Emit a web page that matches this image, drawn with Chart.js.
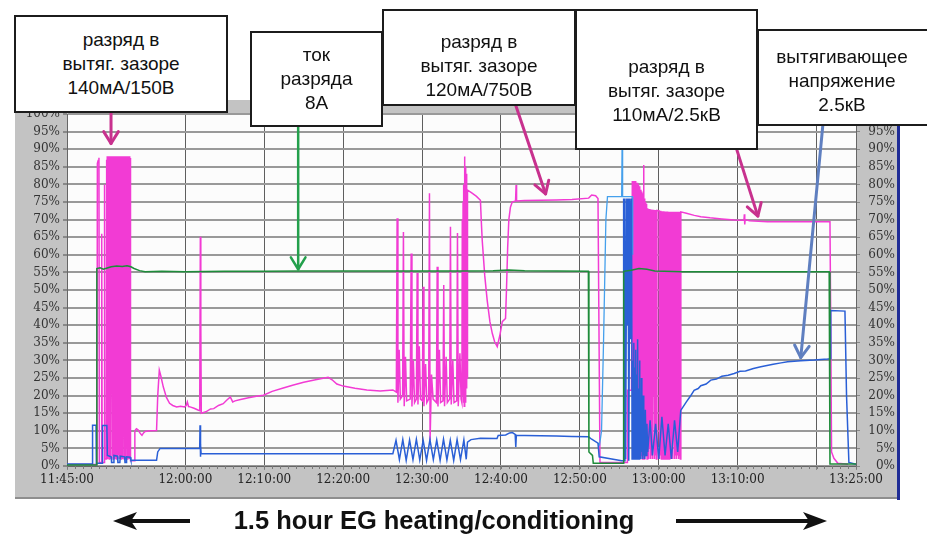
<!DOCTYPE html>
<html>
<head>
<meta charset="utf-8">
<script src="https://cdn.jsdelivr.net/npm/chart.js@4.4.0/dist/chart.umd.min.js"></script>
<style>
  body { margin: 0; background: #fff; }
  #wrap { position: relative; width: 927px; height: 541px; overflow: hidden; }
  #plot { position: absolute; left: 0; top: 0; }
  .note {
    position: absolute; box-sizing: border-box; background: #fff; border: 2px solid #1c1c1c;
    font-family: "Liberation Sans", Arial, sans-serif; font-size: 19px; line-height: 24px; color: #111;
    text-align: center; display: flex; align-items: center; justify-content: center;
  }
  #caption {
    position: absolute; left: 180px; top: 505px; width: 508px; text-align: center;
    font-family: "Liberation Sans", Arial, sans-serif; line-height: 30px;
    font-weight: bold; font-size: 26px; color: #111; transform: scaleX(0.98); transform-origin: 254px 50%;
  }
</style>
</head>
<body>
<div id="wrap">
  <canvas id="plot" width="927" height="541"></canvas>
  <div class="note" style="left:14px;top:15px;width:214px;height:98px;">разряд в<br>вытяг. зазоре<br>140мА/150В</div>
  <div class="note" style="left:250px;top:31px;width:133px;height:96px;">ток<br>разряда<br>8А</div>
  <div class="note" style="left:382px;top:9px;width:194px;height:97px;padding-top:17px;">разряд в<br>вытяг. зазоре<br>120мА/750В</div>
  <div class="note" style="left:575px;top:9px;width:183px;height:141px;padding-top:23px;">разряд в<br>вытяг. зазоре<br>110мА/2.5кВ</div>
  <div class="note" style="left:757px;top:29px;width:180px;height:97px;padding-top:7px;padding-right:10px;">вытягивающее<br>напряжение<br>2.5кВ</div>
  <div id="caption">1.5 hour EG heating/conditioning</div>
</div>
<script>
// time axis in minutes after 11:45:00
const timeTicks = [0, 15, 25, 35, 45, 55, 65, 75, 85, 95, 100];
const timeLabels = ['11:45:00', '12:00:00', '12:10:00', '12:20:00', '12:30:00', '12:40:00', '12:50:00', '13:00:00', '13:10:00', '', '13:25:00'];

// discharge current (green), % of range
const greenPoints = [
  [0, 0.3], [3.72, 0.3], [3.78, 56.1], [4.2, 56.3], [4.6, 55.9], [5.0, 56.2], [5.6, 56.6], [6.3, 56.8], [7.0, 56.7],
  [7.6, 56.9], [8.1, 56.6], [8.5, 56.1], [9.2, 55.5], [9.9, 55.2], [12.0, 55.3], [15.0, 55.2], [20.0, 55.3],
  [25.0, 55.3], [30.0, 55.4], [35.0, 55.4], [40.0, 55.4], [45.0, 55.4], [50.0, 55.4], [54.0, 55.5], [56.0, 55.7],
  [58.0, 55.5], [62.0, 55.4], [66.08, 55.3], [66.15, 4.0], [66.6, 3.0], [66.7, 0.8], [70.5, 0.8], [70.56, 55.3],
  [71.5, 55.6], [72.5, 56.1], [73.5, 55.9], [74.5, 55.4], [78.0, 55.2], [85.0, 55.2], [90.0, 55.2], [96.6, 55.2],
  [96.7, 0.6], [100, 0.6]
];

// extraction voltage (blue)
const bluePoints = [
  [0, 0.6], [3.2, 0.6], [3.24, 11.6], [3.68, 11.6], [3.72, 0.8], [4.45, 0.8], [4.5, 11.5], [5.05, 11.5], [5.12, 3],
  [5.6, 2.6], [5.65, 1], [5.9, 1], [5.95, 3], [6.4, 2.8], [6.45, 1], [6.7, 1], [6.75, 2.8], [7.3, 2.6], [7.35, 1],
  [7.5, 1], [7.55, 2.6], [8.0, 2.5], [8.1, 1.6], [11.35, 1.6], [11.5, 4], [11.8, 5], [16.82, 5], [16.86, 11.6],
  [16.9, 2.6], [16.95, 6], [17.0, 3.5], [41.3, 3.5],
  [41.7, 7.3], [42.13, 1.8], [42.56, 7.5], [42.99, 1.6], [43.42, 7.4], [43.85, 1.8], [44.28, 7.6], [44.71, 1.7],
  [45.14, 7.3], [45.57, 1.6], [46.0, 7.5], [46.43, 1.8], [46.86, 7.4], [47.29, 1.6], [47.72, 7.6], [48.15, 1.7],
  [48.58, 7.3], [49.01, 1.6], [49.44, 7.5], [49.87, 1.8], [50.3, 7.4], [50.6, 1.9],
  [50.76, 6.8], [51.2, 7.5], [52.4, 7.9], [54.5, 7.8], [54.65, 8.7], [55.6, 8.8], [56.1, 9.4], [56.45, 9.5],
  [56.8, 9.0], [56.88, 5.4], [56.95, 8.7], [58, 8.7], [60, 8.6], [62, 8.5], [64, 8.4], [66.1, 8.3], [66.5, 7.6],
  [67.3, 6.5], [67.45, 2.6], [70.3, 1.5], [70.5, 1.5], [70.55, 76], [70.62, 1.5], [70.72, 76], [70.8, 2],
  [70.95, 76], [71.0, 40], [71.12, 76], [71.2, 1.5], [71.35, 76], [71.45, 36], [71.55, 76], [71.62, 2],
  [71.72, 30], [71.78, 2], [71.84, 35], [71.9, 3], [71.96, 28], [72.02, 2], [72.08, 33], [72.14, 4], [72.2, 26],
  [72.26, 2], [72.32, 36], [72.38, 3], [72.44, 22], [72.5, 2], [72.56, 30], [72.62, 3], [72.68, 18], [72.74, 2],
  [72.8, 25], [72.86, 4], [72.92, 14], [72.98, 2], [73.04, 20], [73.1, 3], [73.16, 12], [73.22, 2], [73.3, 16],
  [73.4, 3], [73.5, 12], [73.6, 4], [73.9, 13], [74.2, 3], [74.6, 12], [75.0, 2], [75.4, 14], [75.8, 3],
  [76.2, 12], [76.6, 2], [77.0, 13], [77.4, 4], [77.79, 15.8], [78.5, 18.2], [79.0, 19.8], [79.48, 21.5],
  [80.0, 22], [80.33, 22.8], [81.0, 23.3], [81.6, 24.4], [82.3, 24.7], [83.0, 25.5], [83.8, 25.8], [84.56, 26.3],
  [85.3, 26.9], [86.0, 27], [87.0, 27.7], [87.94, 28.2], [89.5, 28.9], [90.5, 29.3], [91.33, 29.6], [93, 29.9],
  [94.71, 30.1], [96.4, 30.4], [96.74, 30.5], [96.8, 44.2], [98.6, 44], [98.8, 20], [99.1, 1], [100, 0.5]
];

// extraction voltage, second trace (light blue)
const cyanPoints = [
  [67.3, 6.5], [67.5, 6], [67.75, 10], [68.0, 35], [68.3, 70], [68.5, 76.5], [70.3, 76.5], [70.36, 93],
  [70.42, 76.5], [71.65, 76.5], [71.7, 60]
];

// gap discharge (magenta)
const pinkPoints = [
  [0, 0.4], [3.8, 0.4], [3.85, 86], [3.95, 86.8], [4.05, 87.6], [4.1, 1], [4.35, 1], [4.4, 66], [4.46, 1],
  [4.7, 1], [4.76, 80], [4.82, 2], [4.97, 2],
  [5.0, 87], [5.05, 3], [5.1, 88], [5.15, 2], [5.2, 88], [5.25, 15], [5.3, 88], [5.35, 2], [5.4, 88], [5.45, 4],
  [5.5, 88], [5.55, 2], [5.6, 88], [5.65, 40], [5.7, 88], [5.75, 3], [5.8, 88], [5.85, 2], [5.9, 88], [5.95, 12],
  [6.0, 88], [6.05, 2], [6.1, 88], [6.15, 3], [6.2, 88], [6.25, 2], [6.3, 88], [6.35, 20], [6.4, 88], [6.45, 2],
  [6.5, 88], [6.55, 3], [6.6, 88], [6.65, 2], [6.7, 88], [6.75, 8], [6.8, 88], [6.85, 2], [6.9, 88], [6.95, 3],
  [7.0, 88], [7.05, 2], [7.1, 88], [7.15, 30], [7.2, 88], [7.25, 2], [7.3, 88], [7.35, 3], [7.4, 88], [7.45, 2],
  [7.5, 88], [7.55, 5], [7.6, 88], [7.65, 2], [7.7, 88], [7.75, 3], [7.8, 88], [7.85, 2], [7.9, 88], [7.95, 2],
  [8.0, 87.5], [8.05, 1.5],
  [8.55, 1.5], [8.6, 10], [8.8, 10.6], [9.0, 10.3], [9.3, 9.2], [9.5, 8.7], [9.7, 9.4], [9.9, 9.8], [10.5, 10],
  [11.35, 10.1], [11.5, 20], [11.7, 27.2], [11.9, 25.5], [12.2, 22.5], [12.6, 19.5], [13.0, 17.8], [13.4, 17.2],
  [13.9, 16.8], [14.4, 17], [14.9, 16.8], [15.1, 17.2], [15.25, 18.2], [15.4, 16.9], [15.6, 16.8], [16.1, 16.4],
  [16.6, 15.9], [16.82, 15.7], [16.9, 65.1], [16.96, 40], [17.02, 15], [17.6, 15.4], [18.2, 16.2], [18.6, 16.3],
  [19.2, 17.2], [19.8, 17.7], [20.2, 18.6], [20.7, 19.6], [21.0, 18.2], [21.3, 18.5], [22.0, 18.9], [23.0, 19.4],
  [24.0, 19.8], [24.9, 20.1], [26.0, 21.2], [27.3, 22.1], [28.7, 23], [30.0, 23.8], [31.5, 24.5], [33.1, 25.2],
  [33.6, 24.5], [34.2, 23.3], [35.0, 22.7], [36.5, 22.1], [38.0, 21.6], [39.7, 21.3], [41.3, 21.6],
  [41.74, 21], [41.84, 70.4], [41.94, 18], [42.1, 33], [42.25, 19],
  [42.54, 20], [42.64, 66.5], [42.74, 17], [42.9, 31], [43.05, 18.5],
  [43.5, 19], [43.62, 60.4], [43.72, 16.9], [43.9, 30], [44.05, 18],
  [44.28, 19], [44.38, 54.8], [44.48, 17.5], [44.65, 34], [44.8, 19],
  [45.04, 18.5], [45.14, 50.9], [45.24, 17], [45.45, 29], [45.6, 18],
  [45.84, 19], [45.94, 77.5], [46.02, 7.3], [46.2, 26], [46.4, 19],
  [46.82, 18], [46.92, 56.6], [47.02, 16.9], [47.2, 33], [47.35, 18],
  [47.65, 18.5], [47.75, 51.4], [47.85, 17], [48.05, 31], [48.2, 18],
  [48.5, 19], [48.6, 68], [48.7, 17.5], [48.9, 30], [49.05, 18],
  [49.39, 18.5], [49.49, 66.2], [49.59, 17], [49.8, 32], [49.95, 19],
  [50.05, 18], [50.1, 70], [50.15, 20], [50.2, 75], [50.25, 18], [50.3, 80], [50.35, 17], [50.38, 87.9],
  [50.43, 20], [50.48, 85], [50.53, 18], [50.58, 83], [50.63, 22], [50.68, 80], [50.72, 25], [50.76, 78.4],
  [51.3, 77.6], [51.9, 76.6], [52.4, 75.5], [52.5, 70], [52.63, 64], [52.95, 54], [53.26, 47], [53.6, 41],
  [53.9, 37.7], [54.2, 35.3], [54.53, 33.9], [54.85, 37], [55.17, 41], [55.58, 41.9], [55.7, 50], [55.85, 62],
  [56.0, 70], [56.2, 73.5], [56.43, 75], [56.85, 75.3], [56.92, 79.8], [56.98, 75.3], [58, 75.4], [60, 75.5],
  [62, 75.6], [64, 75.7], [66.12, 76.1], [66.5, 77], [67.0, 76.8], [67.3, 76], [67.42, 40], [67.55, 1],
  [71.0, 1], [71.03, 21.5], [71.55, 21.5], [71.65, 81],
  [71.72, 3], [71.78, 81], [71.84, 2], [71.9, 80.5], [71.96, 30], [72.02, 81], [72.08, 3], [72.14, 80], [72.2, 2],
  [72.26, 80.5], [72.32, 12], [72.38, 80], [72.44, 3], [72.5, 79.5], [72.56, 2], [72.62, 79], [72.68, 25],
  [72.74, 78.5], [72.8, 3], [72.86, 78], [72.92, 2], [72.98, 77.5], [73.04, 4], [73.1, 85.5], [73.16, 2],
  [73.22, 76], [73.28, 3], [73.34, 75], [73.4, 40], [73.46, 74.5], [73.52, 2], [73.57, 73.2],
  [73.63, 3], [73.69, 73], [73.75, 2], [73.81, 73], [73.87, 5], [73.93, 72.9], [73.99, 2], [74.05, 72.9],
  [74.11, 3], [74.17, 72.8], [74.23, 2], [74.29, 72.8], [74.35, 20], [74.41, 72.7], [74.47, 2], [74.53, 72.7],
  [74.59, 3], [74.65, 72.6], [74.71, 2], [74.77, 72.6], [75.05, 72.5],
  [75.1, 2], [75.16, 72.5], [75.22, 3], [75.28, 72.5], [75.34, 2], [75.4, 72.4], [75.46, 8], [75.52, 72.4],
  [75.58, 2], [75.64, 72.4], [75.7, 3], [75.76, 72.3], [75.82, 2], [75.88, 72.3], [75.94, 15], [76.0, 72.3],
  [76.06, 2], [76.12, 72.3], [76.18, 3], [76.24, 72.2], [76.3, 2], [76.36, 72.2], [76.42, 4], [76.48, 72.2],
  [76.54, 2], [76.6, 72.2], [76.66, 3], [76.72, 72.2], [76.78, 2], [76.84, 72.2], [76.9, 10], [76.96, 72.2],
  [77.02, 2], [77.08, 72.2], [77.14, 3], [77.2, 72.2], [77.26, 2], [77.32, 72.2], [77.38, 3], [77.44, 72.2],
  [77.5, 2], [77.56, 72.2], [77.62, 3], [77.68, 72.2], [77.74, 2], [77.8, 72.2],
  [78.5, 71.8], [79.5, 71.2], [80.33, 70.8], [81.5, 70.5], [83, 70.2], [84.56, 69.9], [85.8, 69.8], [85.85, 71.5],
  [85.9, 68.6], [85.95, 70], [86.5, 69.7], [88.79, 69.4], [92, 69.4], [96.7, 69.4], [96.8, 40], [96.9, 4],
  [97.2, 2.2], [97.7, 0.8], [99, 0.5]
];

// callout arrows: [time, percent] of tail and tip
const noteArrows = [
  { from: [5.58, 100.3], to: [5.58, 91.6], color: '#c8318e', width: 3 },
  { from: [29.3, 96.3], to: [29.3, 55.9], color: '#23a04c', width: 2.5 },
  { from: [56.85, 102.6], to: [60.66, 77.3], color: '#c8318e', width: 3 },
  { from: [84.9, 89.8], to: [87.56, 71.0], color: '#c8318e', width: 3 },
  { from: [95.8, 96.9], to: [93.0, 30.8], color: '#5f7fc0', width: 3 }
];

const toXY = pts => pts.map(p => ({ x: p[0], y: p[1] }));
const tickFont = { family: '"DejaVu Serif", "Liberation Serif", serif', size: 12 };

function drawArrow(ctx, x1, y1, x2, y2, color, width, head) {
  ctx.strokeStyle = color;
  ctx.lineWidth = width;
  ctx.lineCap = 'round';
  ctx.lineJoin = 'round';
  ctx.beginPath();
  ctx.moveTo(x1, y1);
  ctx.lineTo(x2, y2);
  ctx.stroke();
  const ang = Math.atan2(y2 - y1, x2 - x1);
  ctx.beginPath();
  ctx.moveTo(x2 - head * Math.cos(ang - 0.55), y2 - head * Math.sin(ang - 0.55));
  ctx.lineTo(x2, y2);
  ctx.lineTo(x2 - head * Math.cos(ang + 0.55), y2 - head * Math.sin(ang + 0.55));
  ctx.stroke();
}

function blockArrow(ctx, tail, tip, y) {
  const dir = Math.sign(tip - tail);
  ctx.fillStyle = '#111';
  ctx.fillRect(Math.min(tail, tip - dir * 16), y - 2, Math.abs(tip - dir * 16 - tail), 4);
  ctx.beginPath();
  ctx.moveTo(tip, y);
  ctx.lineTo(tip - dir * 24, y - 9);
  ctx.lineTo(tip - dir * 18, y);
  ctx.lineTo(tip - dir * 24, y + 9);
  ctx.closePath();
  ctx.fill();
}

const framePlugin = {
  id: 'frame',
  beforeDraw(chart) {
    const { ctx, chartArea: a } = chart;
    ctx.save();
    ctx.fillStyle = '#fff';
    ctx.fillRect(0, 0, chart.width, chart.height);
    ctx.fillStyle = '#c3c3c3';
    ctx.fillRect(15, 100, 882, 398);
    ctx.fillStyle = '#8e8e8e';
    ctx.fillRect(15, 497, 882, 2);
    ctx.fillStyle = '#fcfcfc';
    ctx.fillRect(a.left, a.top, a.right - a.left, a.bottom - a.top);
    ctx.fillStyle = '#1f2c96';
    ctx.fillRect(897, 100, 3, 400);
    ctx.restore();
  },
  afterDraw(chart) {
    const { ctx, chartArea: a } = chart;
    const xs = chart.scales.x, ys = chart.scales.y;
    ctx.save();
    ctx.strokeStyle = '#7a7a7a';
    ctx.lineWidth = 1;
    for (let m = 0; m <= 100; m++) {
      const px = Math.round(xs.getPixelForValue(m)) + 0.5;
      ctx.beginPath();
      ctx.moveTo(px, a.bottom);
      ctx.lineTo(px, a.bottom + 3);
      ctx.stroke();
    }
    noteArrows.forEach(n => {
      drawArrow(ctx, xs.getPixelForValue(n.from[0]), ys.getPixelForValue(n.from[1]),
        xs.getPixelForValue(n.to[0]), ys.getPixelForValue(n.to[1]), n.color, n.width, 14);
    });
    blockArrow(ctx, 190, 113, 521);
    blockArrow(ctx, 676, 827, 521);
    ctx.restore();
  }
};

new Chart(document.getElementById('plot'), {
  type: 'line',
  data: {
    datasets: [
      { label: 'ток разряда', data: toXY(greenPoints), borderColor: '#1e8c3a', borderWidth: 1.5, order: 0 },
      { label: 'вытягивающее напряжение', data: toXY(bluePoints), borderColor: '#2a5fd6', borderWidth: 1.5, order: 1 },
      { label: 'вытягивающее напряжение 2', data: toXY(cyanPoints), borderColor: '#45a0ec', borderWidth: 1.3, order: 2 },
      { label: 'разряд в вытяг. зазоре', data: toXY(pinkPoints), borderColor: '#f23bd4', borderWidth: 1.5, order: 3 }
    ]
  },
  options: {
    responsive: false,
    animation: false,
    devicePixelRatio: 1,
    layout: { padding: { left: 15, right: 32, top: 114, bottom: 45 } },
    plugins: { legend: { display: false }, tooltip: { enabled: false } },
    elements: { point: { radius: 0 }, line: { tension: 0 } },
    scales: {
      x: {
        type: 'linear', min: 0, max: 100,
        afterBuildTicks: s => { s.ticks = timeTicks.map(v => ({ value: v })); },
        afterFit: s => { s.height = 30; },
        ticks: {
          callback: v => { const i = timeTicks.indexOf(v); return i < 0 ? '' : timeLabels[i]; },
          maxRotation: 0, autoSkip: false, font: tickFont, color: '#222', padding: 3
        },
        grid: { color: '#5e5e5e', lineWidth: 1, tickLength: 4, tickColor: '#888' },
        border: { color: '#666' }
      },
      y: {
        min: 0, max: 100,
        afterFit: s => { s.width = 52; },
        ticks: { stepSize: 5, autoSkip: false, callback: v => v + '%', font: tickFont, color: '#333', padding: 3 },
        grid: { color: '#999', lineWidth: 2, tickLength: 4, tickColor: '#888' },
        border: { color: '#666' }
      },
      y2: {
        position: 'right', min: 0, max: 100,
        afterFit: s => { s.width = 39; },
        ticks: { stepSize: 5, autoSkip: false, callback: v => v + '%', font: tickFont, color: '#333', crossAlign: 'far' },
        grid: { drawOnChartArea: false, tickLength: 4, tickColor: '#888' },
        border: { color: '#666' }
      }
    }
  },
  plugins: [framePlugin]
});
</script>
</body>
</html>
